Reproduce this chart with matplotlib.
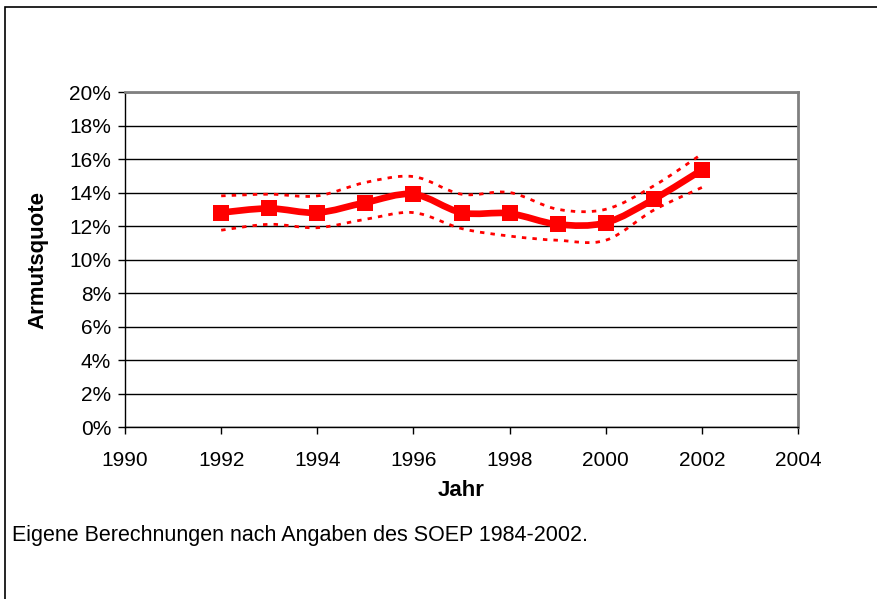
import numpy as np
import matplotlib
matplotlib.use("Agg")
import matplotlib.pyplot as plt
from matplotlib.path import Path
from matplotlib.patches import PathPatch, Rectangle
from matplotlib.ticker import FuncFormatter

plt.rcParams['font.family'] = ['Liberation Sans', 'DejaVu Sans']

# data
years = [1992, 1993, 1994, 1995, 1996, 1997, 1998, 1999, 2000, 2001, 2002]
quote = [12.8, 13.05, 12.8, 13.4, 13.9, 12.8, 12.75, 12.1, 12.2, 13.6, 15.35]
upper = [13.8, 13.9, 13.8, 14.6, 14.95, 13.9, 14.0, 13.0, 13.0, 14.4, 16.3]
lower = [11.75, 12.1, 11.9, 12.4, 12.8, 11.85, 11.4, 11.15, 11.15, 12.95, 14.3]

xticks = [1990, 1992, 1994, 1996, 1998, 2000, 2002, 2004]
yticks = [0, 2, 4, 6, 8, 10, 12, 14, 16, 18, 20]


# smoothed curve like excel (catmull-rom as bezier)
def smooth_path(x, y):
    p = np.column_stack([x, y]).astype(float)
    n = len(p)
    verts = [p[0]]
    codes = [Path.MOVETO]
    for i in range(n - 1):
        p0 = p[i - 1] if i > 0 else p[i]
        p3 = p[i + 2] if i + 2 < n else p[i + 1]
        c1 = p[i] + (p[i + 1] - p0) / 6
        c2 = p[i + 1] - (p3 - p[i]) / 6
        verts += [c1, c2, p[i + 1]]
        codes += [Path.CURVE4] * 3
    return Path(verts, codes)


fig = plt.figure(figsize=(8.78, 5.99), dpi=100)
ax = fig.add_axes([0.1424, 0.2871, 0.7665, 0.5593])

red = '#ff0000'
for band in (upper, lower):
    ax.add_patch(PathPatch(smooth_path(years, band), fill=False, edgecolor=red,
                           lw=2, linestyle=(0, (1.6, 2.2)), capstyle='butt'))
ax.add_patch(PathPatch(smooth_path(years, quote), fill=False, edgecolor=red,
                       lw=4.8, joinstyle='round', capstyle='round'))
ax.plot(years, quote, 's', color=red, ms=11.5, mew=0, zorder=5)

ax.set_xlim(1990, 2004)
ax.set_ylim(0, 20)
ax.set_xticks(xticks)
ax.set_yticks(yticks)
ax.yaxis.set_major_formatter(FuncFormatter(lambda v, p: f'{v:.0f}%'))
ax.grid(axis='y', color='black', lw=1)
ax.set_axisbelow(True)

for s in ('top', 'right'):
    ax.spines[s].set_color('#808080')
    ax.spines[s].set_linewidth(2)
ax.spines['left'].set_linewidth(1)
ax.spines['bottom'].set_linewidth(1)
ax.tick_params(axis='both', direction='out', length=5, width=1, labelsize=15)
ax.tick_params(axis='y', pad=5)
ax.tick_params(axis='x', pad=12)

ax.set_xlabel('Jahr', fontsize=16, fontweight='bold', va='center')
ax.set_ylabel('Armutsquote', fontsize=16, fontweight='bold', va='center')
ax.xaxis.set_label_coords(0.5, -(490 - 427) / 335)
ax.yaxis.set_label_coords(-(125 - 38) / 673, 0.5)

fig.text(12 / 878, 1 - 535 / 599, 'Eigene Berechnungen nach Angaben des SOEP 1984-2002.',
         fontsize=15.5, ha='left', va='center')

# outer frame
fig.patches.append(Rectangle((5 / 878, -0.05), 1.2, 1 - 7 / 599 + 0.05,
                             transform=fig.transFigure, fill=False,
                             edgecolor='black', lw=1.2))

fig.savefig('out.png', dpi=100)
